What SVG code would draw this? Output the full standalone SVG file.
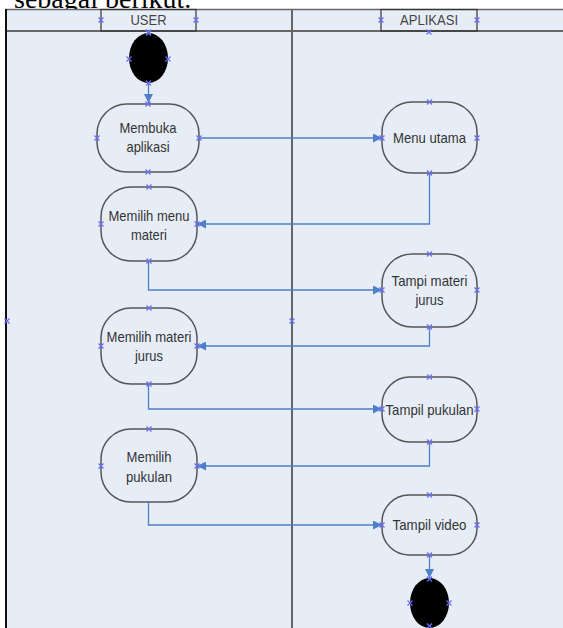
<svg xmlns="http://www.w3.org/2000/svg" width="563" height="628" viewBox="0 0 563 628">
  <defs>
    <style>
      .lbl { font-family: "Liberation Sans", Arial, sans-serif; font-size: 15px; fill: #333; text-anchor: middle; }
      .hdr { font-family: "Liberation Sans", Arial, sans-serif; font-size: 15px; fill: #444; text-anchor: middle; }
      .cap { font-family: "Liberation Serif", "Times New Roman", serif; font-size: 28px; fill: #000; }
      .act { fill: #E7EDF7; stroke: #555; stroke-width: 1.5; }
      .flow { fill: none; stroke: #4F7FC6; stroke-width: 1.3; marker-end: url(#arr); }
      .cp { stroke: #6B6BF5; stroke-width: 1.2; fill: none; }
    </style>
    <marker id="arr" viewBox="0 0 10 10" refX="10" refY="5" markerWidth="9" markerHeight="9" markerUnits="userSpaceOnUse" orient="auto">
      <path d="M0,0 L10,5 L0,10 z" fill="#4F7FC6"/>
    </marker>
    <path id="x" class="cp" d="M-2.5,-2.5 L2.5,2.5 M-2.5,2.5 L2.5,-2.5"/>
  </defs>

  <rect width="563" height="628" fill="#fff"/>
  <text class="cap" x="14" y="8">sebagai berikut.</text>

  <!-- swimlane frame -->
  <g id="lanes">
    <rect x="5" y="9" width="560" height="625" fill="#E7EDF7"/>
    <line x1="5" y1="9.5" x2="563" y2="9.5" stroke="#666" stroke-width="1.5"/>
    <line x1="5" y1="31" x2="563" y2="31" stroke="#666" stroke-width="2"/>
    <line x1="6" y1="9" x2="6" y2="628" stroke="#111" stroke-width="2"/>
    <line x1="292" y1="9" x2="292" y2="628" stroke="#666" stroke-width="2"/>
  </g>

  <g id="lane-user">
    <rect x="101" y="9.5" width="95" height="21.5" fill="none" stroke="#333" stroke-width="1.2"/>
    <text class="hdr" x="148.5" y="25" textLength="36" lengthAdjust="spacingAndGlyphs">USER</text>
  </g>
  <g id="lane-aplikasi">
    <rect x="381" y="9.5" width="96" height="21.5" fill="none" stroke="#333" stroke-width="1.2"/>
    <text class="hdr" x="429" y="25" textLength="58" lengthAdjust="spacingAndGlyphs">APLIKASI</text>
  </g>

  <g id="start">
    <ellipse cx="148.5" cy="58" rx="19.5" ry="25" fill="#000"/>
  </g>

  <g id="membuka-aplikasi">
    <rect class="act" x="97" y="104" width="102" height="68" rx="30" ry="30"/>
    <text class="lbl" x="148" y="133" textLength="57" lengthAdjust="spacingAndGlyphs">Membuka</text>
    <text class="lbl" x="148" y="152" textLength="43" lengthAdjust="spacingAndGlyphs">aplikasi</text>
  </g>

  <g id="menu-utama">
    <rect class="act" x="382" y="102" width="95" height="71" rx="30" ry="30"/>
    <text class="lbl" x="429.5" y="143" textLength="73" lengthAdjust="spacingAndGlyphs">Menu utama</text>
  </g>

  <g id="memilih-menu-materi">
    <rect class="act" x="101" y="187" width="96" height="74" rx="30" ry="30"/>
    <text class="lbl" x="149" y="221" textLength="81" lengthAdjust="spacingAndGlyphs">Memilih menu</text>
    <text class="lbl" x="149" y="240" textLength="36" lengthAdjust="spacingAndGlyphs">materi</text>
  </g>

  <g id="tampi-materi-jurus">
    <rect class="act" x="382" y="254" width="95" height="73" rx="30" ry="30"/>
    <text class="lbl" x="429.5" y="286" textLength="76" lengthAdjust="spacingAndGlyphs">Tampi materi</text>
    <text class="lbl" x="429.5" y="305" textLength="28" lengthAdjust="spacingAndGlyphs">jurus</text>
  </g>

  <g id="memilih-materi-jurus">
    <rect class="act" x="101" y="308" width="96" height="76" rx="30" ry="30"/>
    <text class="lbl" x="149" y="342" textLength="85" lengthAdjust="spacingAndGlyphs">Memilih materi</text>
    <text class="lbl" x="149" y="361" textLength="28" lengthAdjust="spacingAndGlyphs">jurus</text>
  </g>

  <g id="tampil-pukulan">
    <rect class="act" x="382" y="377" width="95" height="65" rx="28" ry="28"/>
    <text class="lbl" x="429.5" y="415" textLength="88" lengthAdjust="spacingAndGlyphs">Tampil pukulan</text>
  </g>

  <g id="memilih-pukulan">
    <rect class="act" x="101" y="429" width="96" height="73" rx="30" ry="30"/>
    <text class="lbl" x="149" y="462" textLength="45" lengthAdjust="spacingAndGlyphs">Memilih</text>
    <text class="lbl" x="149" y="482" textLength="46" lengthAdjust="spacingAndGlyphs">pukulan</text>
  </g>

  <g id="tampil-video">
    <rect class="act" x="382" y="495" width="95" height="60" rx="27" ry="27"/>
    <text class="lbl" x="429.5" y="530" textLength="74" lengthAdjust="spacingAndGlyphs">Tampil video</text>
  </g>

  <g id="end">
    <ellipse cx="429.5" cy="603" rx="19.5" ry="25" fill="#000"/>
  </g>

  <g id="connectors">
    <path class="flow" d="M148.5,83 L148.5,103"/>
    <path class="flow" d="M199,138 L382,138"/>
    <path class="flow" d="M429.5,173 L429.5,224 L197,224"/>
    <path class="flow" d="M148.5,261 L148.5,290 L382,290"/>
    <path class="flow" d="M429.5,327 L429.5,346 L197,346"/>
    <path class="flow" d="M148.5,384 L148.5,409 L382,409"/>
    <path class="flow" d="M429.5,442 L429.5,466 L197,466"/>
    <path class="flow" d="M148.5,502 L148.5,525 L382,525"/>
    <path class="flow" d="M429.5,555 L429.5,578"/>
  </g>

  <!-- connection points -->
  <g id="connection-points">
    <use href="#x" x="101" y="20"/><use href="#x" x="196" y="20"/><use href="#x" x="148.5" y="32"/>
    <use href="#x" x="381" y="20"/><use href="#x" x="477" y="20"/><use href="#x" x="429" y="32"/>
    <use href="#x" x="148.5" y="33"/><use href="#x" x="129" y="59"/><use href="#x" x="168" y="59"/><use href="#x" x="148.5" y="83"/>
    <use href="#x" x="148" y="104"/><use href="#x" x="97" y="138"/><use href="#x" x="199" y="138"/><use href="#x" x="148" y="172"/>
    <use href="#x" x="429.5" y="102"/><use href="#x" x="382" y="138"/><use href="#x" x="477" y="138"/><use href="#x" x="429.5" y="173"/>
    <use href="#x" x="149" y="187"/><use href="#x" x="101" y="224"/><use href="#x" x="197" y="224"/><use href="#x" x="149" y="261"/>
    <use href="#x" x="429.5" y="254"/><use href="#x" x="382" y="290"/><use href="#x" x="477" y="290"/><use href="#x" x="429.5" y="327"/>
    <use href="#x" x="149" y="308"/><use href="#x" x="101" y="346"/><use href="#x" x="197" y="346"/><use href="#x" x="149" y="384"/>
    <use href="#x" x="429.5" y="377"/><use href="#x" x="382" y="409"/><use href="#x" x="477" y="409"/><use href="#x" x="429.5" y="442"/>
    <use href="#x" x="149" y="429"/><use href="#x" x="101" y="466"/><use href="#x" x="197" y="466"/>
    <use href="#x" x="429.5" y="495"/><use href="#x" x="382" y="525"/><use href="#x" x="477" y="525"/><use href="#x" x="429.5" y="555"/>
    <use href="#x" x="429.5" y="579"/><use href="#x" x="410" y="603"/><use href="#x" x="449" y="603"/><use href="#x" x="429.5" y="626"/>
    <use href="#x" x="7" y="321"/><use href="#x" x="292" y="321"/>
  </g>
</svg>
